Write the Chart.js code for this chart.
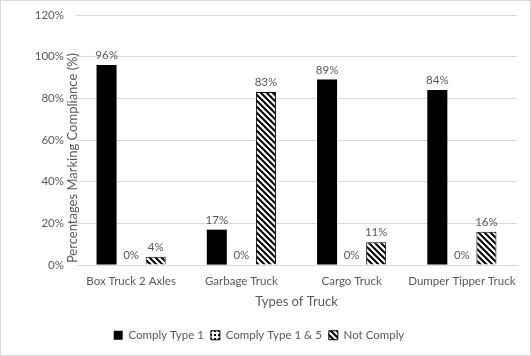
<!DOCTYPE html>
<html><head><meta charset="utf-8">
<script src="https://cdn.jsdelivr.net/npm/chart.js@4"></script>
<style>
html,body{margin:0;padding:0;background:#fff}
#wrap{width:531px;height:356px;box-sizing:border-box;border:1px solid #d9d9d9;overflow:hidden}
canvas{display:block}
</style></head>
<body><div id="wrap"><canvas id="c" width="529" height="354"></canvas></div>
<script>
const categories = ["Box Truck 2 Axles", "Garbage Truck", "Cargo Truck", "Dumper Tipper Truck"];
const complyType1 = [96, 17, 89, 84];
const complyType15 = [0, 0, 0, 0];
const notComply = [4, 83, 11, 16];
const seriesNames = ["Comply Type 1", "Comply Type 1 & 5", "Not Comply"];
const yMax = 120, yStep = 20;
const xTitle = "Types of Truck";
const yTitle = "Percentages Marking Compliance (%)";

const FONT = "Lato, 'Liberation Sans', sans-serif";
const TXT = "#595959";

function hatch() {
  const s = 6, c = document.createElement("canvas");
  c.width = s; c.height = s;
  const g = c.getContext("2d");
  g.fillStyle = "#fff"; g.fillRect(0, 0, s, s);
  g.strokeStyle = "#000"; g.lineWidth = 2;
  g.beginPath();
  g.moveTo(-1, -1); g.lineTo(s + 1, s + 1);
  g.moveTo(-1, s - 1); g.lineTo(1, s + 1);
  g.moveTo(s - 1, -1); g.lineTo(s + 1, 1);
  g.stroke();
  return g.createPattern(c, "repeat");
}
function dots() {
  const s = 4, c = document.createElement("canvas");
  c.width = s; c.height = s;
  const g = c.getContext("2d");
  g.fillStyle = "#fff"; g.fillRect(0, 0, s, s);
  g.fillStyle = "#000"; g.fillRect(1, 1, 2, 2);
  return g.createPattern(c, "repeat");
}

const labelPlugin = {
  id: "barLabels",
  afterDatasetsDraw(chart) {
    const ctx = chart.ctx;
    ctx.save();
    ctx.font = "11.5px " + FONT;
    ctx.fillStyle = TXT;
    ctx.textAlign = "center";
    ctx.textBaseline = "bottom";
    chart.data.datasets.forEach((ds, i) => {
      const meta = chart.getDatasetMeta(i);
      meta.data.forEach((el, j) => {
        ctx.fillText(ds.data[j] + "%", el.x, el.y - 4);
      });
    });
    ctx.restore();
  }
};
const yTitlePlugin = {
  id: "yTitle",
  afterDraw(chart) {
    const ctx = chart.ctx, a = chart.chartArea;
    ctx.save();
    ctx.font = "13px " + FONT;
    ctx.fillStyle = TXT;
    ctx.textAlign = "center";
    ctx.textBaseline = "middle";
    ctx.translate(a.left - 3, (a.top + a.bottom) / 2 + 18);
    ctx.rotate(-Math.PI / 2);
    ctx.fillText(yTitle, 0, 0);
    ctx.restore();
  }
};

new Chart(document.getElementById("c"), {
  type: "bar",
  data: {
    labels: categories,
    datasets: [
      { label: seriesNames[0], data: complyType1, backgroundColor: "#000", borderColor: "#000", borderWidth: 0 },
      { label: seriesNames[1], data: complyType15, backgroundColor: dots(), borderColor: "#000", borderWidth: 1 },
      { label: seriesNames[2], data: notComply, backgroundColor: hatch(), borderColor: "#000", borderWidth: 1 }
    ]
  },
  options: {
    responsive: false,
    animation: false,
    categoryPercentage: 0.668,
    barPercentage: 0.816,
    layout: { padding: { top: 14, right: 13, left: 0, bottom: 4 } },
    plugins: {
      legend: {
        position: "bottom",
        labels: { boxWidth: 9, boxHeight: 9, padding: 7, color: TXT, font: { family: FONT, size: 11.5 } }
      },
      tooltip: { enabled: false }
    },
    scales: {
      x: {
        grid: { display: false, drawTicks: false },
        border: { color: "#d9d9d9" },
        ticks: { color: TXT, font: { family: FONT, size: 11.5 }, padding: 9, maxRotation: 0 },
        title: { display: true, text: xTitle, color: TXT, font: { family: FONT, size: 13 }, padding: { top: -3, bottom: 13 } }
      },
      y: {
        min: 0, max: yMax,
        afterFit(s) { s.width = 75; s.paddingTop = 0; },
        grid: { color: "#d9d9d9", drawTicks: false },
        border: { display: false },
        ticks: { stepSize: yStep, color: TXT, font: { family: FONT, size: 11.5 }, padding: 12, callback: v => v + "%" }
      }
    }
  },
  plugins: [labelPlugin, yTitlePlugin]
});
</script>
</body></html>
